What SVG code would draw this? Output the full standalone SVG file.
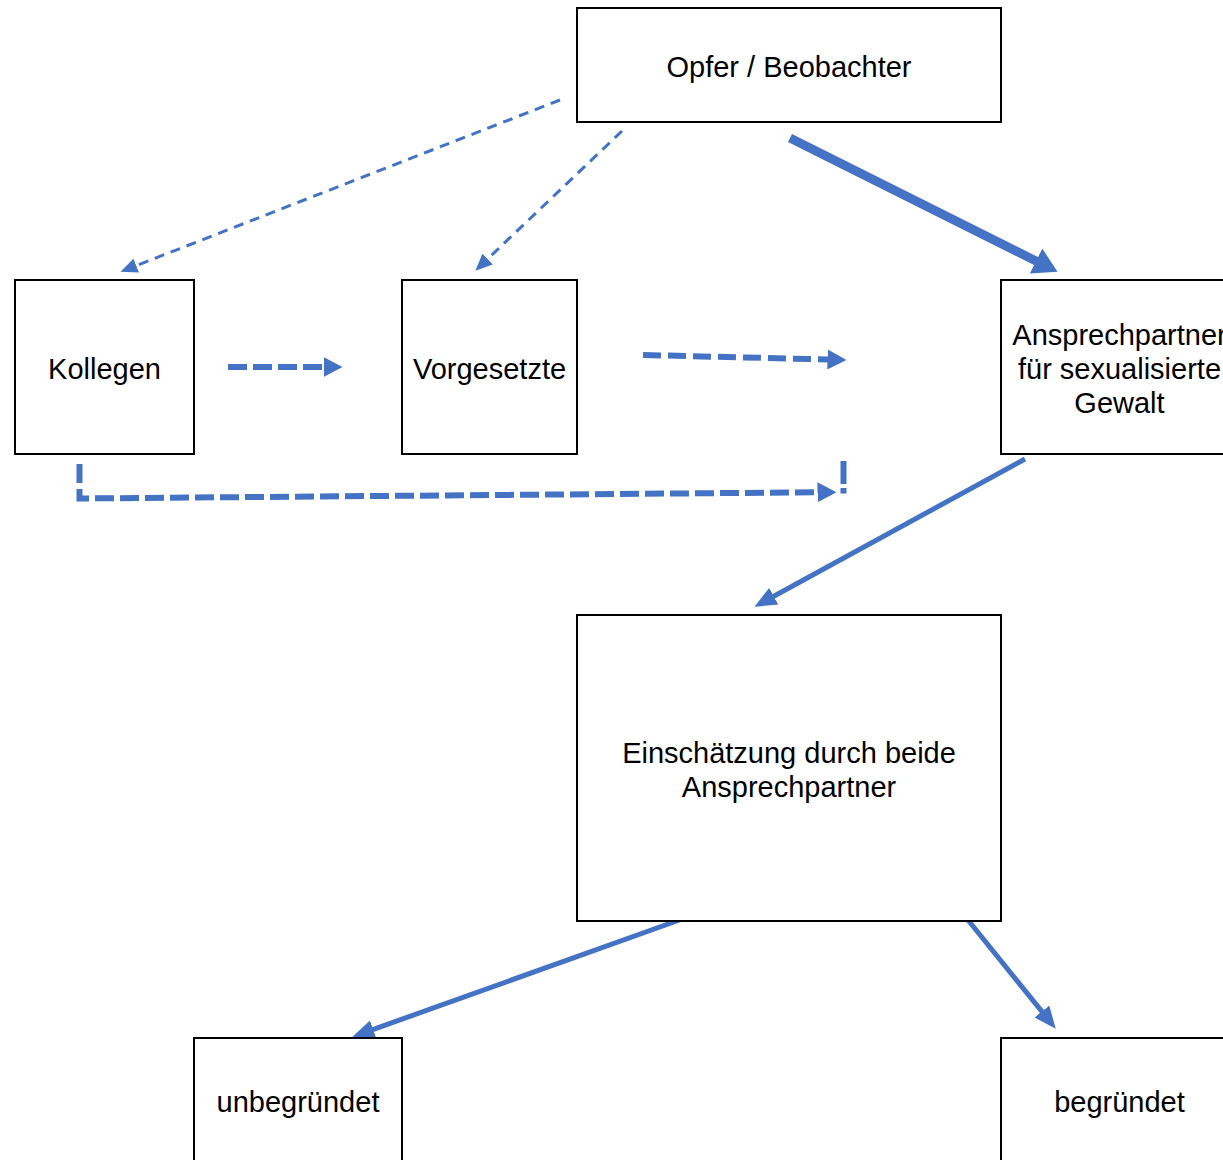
<svg xmlns="http://www.w3.org/2000/svg" width="1223" height="1160" viewBox="0 0 1223 1160">
  <style>
    .box { fill: #ffffff; stroke: #000000; stroke-width: 2; }
    .lbl { font-family: "Liberation Sans", Arial, sans-serif; font-size: 29px; fill: #000000; text-anchor: middle; }
    .c { fill: none; stroke: #4472C4; stroke-linecap: butt; stroke-linejoin: miter; }
    .thin { stroke-width: 3; stroke-dasharray: 10 7; }
    .dash6 { stroke-width: 6; stroke-dasharray: 19 6; }
    .solid5 { stroke-width: 5; }
    .solid9 { stroke-width: 9; }
  </style>
  <defs>
    <marker id="hL" markerUnits="userSpaceOnUse" viewBox="0 0 24 28" markerWidth="24" markerHeight="28" refX="0.5" refY="14" orient="auto">
      <path d="M0,0 L24,14 L0,28 z" fill="#4472C4"/>
    </marker>
    <marker id="hS" markerUnits="userSpaceOnUse" viewBox="0 0 17 15" markerWidth="17" markerHeight="15" refX="0.5" refY="7.5" orient="auto">
      <path d="M0,0 L17,7.5 L0,15 z" fill="#4472C4"/>
    </marker>
    <marker id="hD" markerUnits="userSpaceOnUse" viewBox="0 0 19 20" markerWidth="19" markerHeight="20" refX="0.5" refY="10" orient="auto">
      <path d="M0,0 L19,10 L0,20 z" fill="#4472C4"/>
    </marker>
    <marker id="hN" markerUnits="userSpaceOnUse" viewBox="0 0 22 19" markerWidth="22" markerHeight="19" refX="0.5" refY="9.5" orient="auto">
      <path d="M0,0 L22,9.5 L0,19 z" fill="#4472C4"/>
    </marker>
  </defs>

  <g id="connectors">
    <line class="c thin" x1="560" y1="100" x2="135.8" y2="265.8" marker-end="url(#hS)"/>
    <line class="c thin" x1="622" y1="131" x2="487.3" y2="259.3" marker-end="url(#hS)"/>
    <line class="c solid9" x1="790" y1="138" x2="1036.5" y2="261.3" marker-end="url(#hL)"/>
    <line class="c dash6" x1="228" y1="367" x2="324" y2="367" marker-end="url(#hD)"/>
    <line class="c" style="stroke-width:6;stroke-dasharray:18 7" x1="643" y1="355" x2="828" y2="359.5" marker-end="url(#hD)"/>
    <path class="c dash6" d="M79.5,464 V498.5 L818,492.3" marker-end="url(#hD)"/>
    <line class="c" style="stroke-width:6;stroke-dasharray:23 4" x1="843.5" y1="461" x2="843.5" y2="493.5"/>
    <line class="c solid5" x1="1025" y1="459" x2="773.3" y2="596.5" marker-end="url(#hN)"/>
    <line class="c solid5" x1="685" y1="918" x2="372.7" y2="1029.6" marker-end="url(#hN)"/>
    <line class="c solid5" x1="968" y1="920" x2="1042.2" y2="1011.9" marker-end="url(#hN)"/>
  </g>

  <g id="node-opfer">
    <rect class="box" x="577" y="8" width="424" height="114"/>
    <text class="lbl" x="789" y="76.5">Opfer / Beobachter</text>
  </g>
  <g id="node-kollegen">
    <rect class="box" x="15" y="280" width="179" height="174"/>
    <text class="lbl" x="104.5" y="378.5">Kollegen</text>
  </g>
  <g id="node-vorgesetzte">
    <rect class="box" x="402" y="280" width="175" height="174"/>
    <text class="lbl" x="489.5" y="378.5">Vorgesetzte</text>
  </g>
  <g id="node-ansprechpartner">
    <rect class="box" x="1001" y="280" width="237" height="174"/>
    <text class="lbl" x="1119.5" y="344.5">Ansprechpartner</text>
    <text class="lbl" x="1119.5" y="378.5">für sexualisierte</text>
    <text class="lbl" x="1119.5" y="412.5">Gewalt</text>
  </g>
  <g id="node-einschaetzung">
    <rect class="box" x="577" y="615" width="424" height="306"/>
    <text class="lbl" x="789" y="762.5">Einschätzung durch beide</text>
    <text class="lbl" x="789" y="796.5">Ansprechpartner</text>
  </g>
  <g id="node-unbegruendet">
    <rect class="box" x="194" y="1038" width="208" height="140"/>
    <text class="lbl" x="298" y="1112">unbegründet</text>
  </g>
  <g id="node-begruendet">
    <rect class="box" x="1001" y="1038" width="237" height="140"/>
    <text class="lbl" x="1119.5" y="1112">begründet</text>
  </g>
</svg>
